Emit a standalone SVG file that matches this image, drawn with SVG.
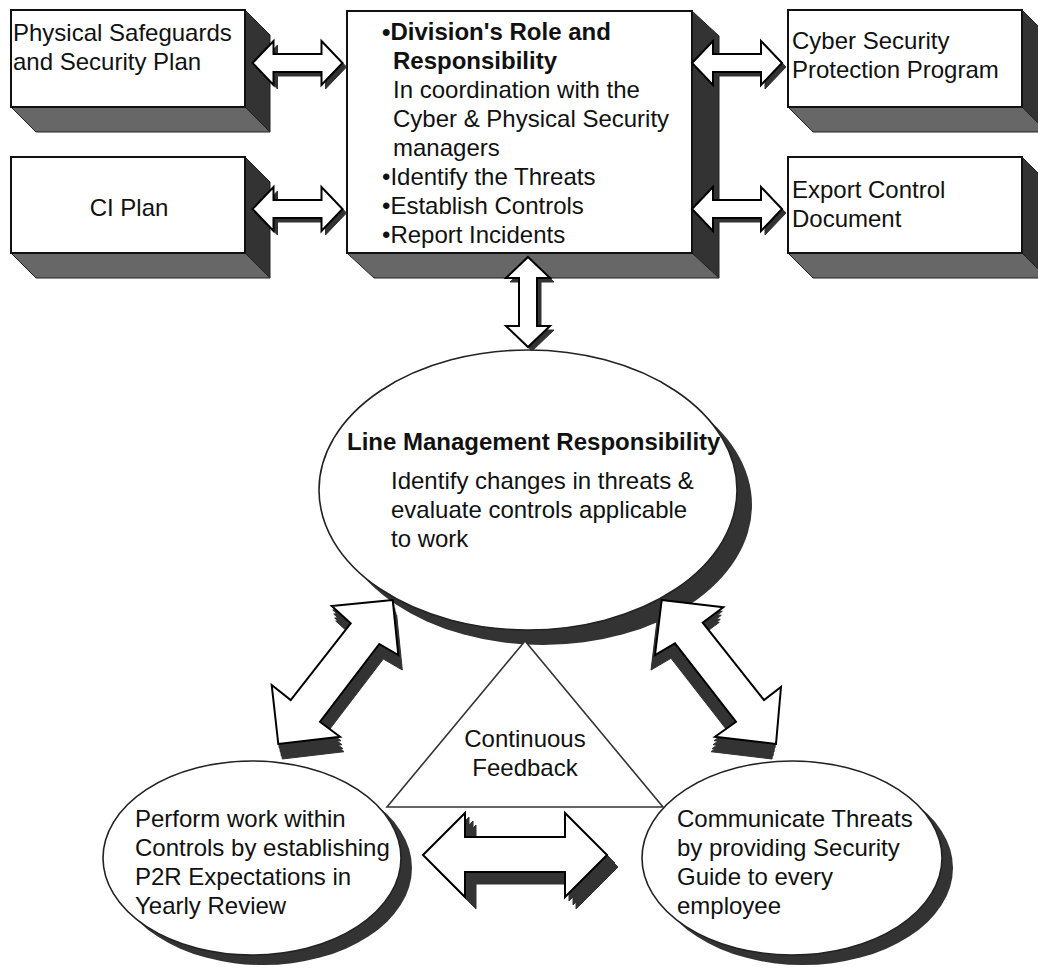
<svg xmlns="http://www.w3.org/2000/svg" xmlns:xlink="http://www.w3.org/1999/xlink" width="1038" height="968" viewBox="0 0 1038 968">
<style>
text{font-family:"Liberation Sans",Arial,Helvetica,sans-serif;font-size:24px;fill:#111}
.b{font-weight:bold}
.front{fill:#fff;stroke:#111;stroke-width:2}
.side{fill:#333;stroke:#222;stroke-width:1}
.bottom{fill:#676767;stroke:#222;stroke-width:1}
.ell{fill:#fff;stroke:#222;stroke-width:1.6}
.esh{fill:#333}
.arw{fill:#fff;stroke:#000;stroke-width:2;stroke-linejoin:miter}
.ash{fill:#333;stroke:#333;stroke-width:1}
</style>
<defs>
<polygon id="dbl" points="-45,0 -24,-22 -24,-9 24,-9 24,-22 45,0 24,22 24,9 -24,9 -24,22"/>
<polygon id="bot" points="423,855 465,813 465,837 565,837 565,813 607,855 565,897 565,872 465,872 465,897"/>
<polygon id="dl" points="392.7,600 331.7,606 350.7,623.3 290.7,700 271.7,685 278.3,744 340,736.7 320,721.7 379.3,644 398.3,655"/>
<polygon id="dr" points="661.7,600 723.3,607.3 702.7,622.7 764,700 781,687 776,744 715,736.7 736,721.7 675,643.3 655,655"/>
</defs>
<rect width="1038" height="968" fill="#fff"/>

<g id="physical-safeguards">
<polygon class="side" points="245,10 270,35 270,132 245,107"/>
<polygon class="bottom" points="11,107 245,107 270,132 36,132"/>
<rect class="front" x="11" y="10" width="234" height="97"/>
<text x="13" y="41">Physical Safeguards</text>
<text x="13" y="70">and Security Plan</text>
</g>

<g id="ci-plan">
<polygon class="side" points="245,157 270,182 270,278 245,253"/>
<polygon class="bottom" points="11,253 245,253 270,278 36,278"/>
<rect class="front" x="11" y="157" width="234" height="96"/>
<text x="129" y="216" text-anchor="middle">CI Plan</text>
</g>

<g id="division-role">
<polygon class="side" points="692,11 719,36 719,278 692,253"/>
<polygon class="bottom" points="347,253 692,253 719,278 374,278"/>
<rect class="front" x="347" y="11" width="345" height="242"/>
<text x="382" y="40" class="b">•Division's Role and</text>
<text x="393" y="69" class="b">Responsibility</text>
<text x="393" y="98">In coordination with the</text>
<text x="393" y="127">Cyber &amp; Physical Security</text>
<text x="393" y="156">managers</text>
<text x="382" y="185">•Identify the Threats</text>
<text x="382" y="214">•Establish Controls</text>
<text x="382" y="243">•Report Incidents</text>
</g>

<g id="cyber-security">
<polygon class="side" points="1022,10 1047,35 1047,132 1022,107"/>
<polygon class="bottom" points="788,107 1022,107 1047,132 813,132"/>
<rect class="front" x="788" y="10" width="234" height="97"/>
<text x="792" y="49">Cyber Security</text>
<text x="792" y="78">Protection Program</text>
</g>

<g id="export-control">
<polygon class="side" points="1022,157 1047,182 1047,278 1022,253"/>
<polygon class="bottom" points="788,253 1022,253 1047,278 813,278"/>
<rect class="front" x="788" y="157" width="234" height="96"/>
<text x="792" y="198">Export Control</text>
<text x="792" y="227">Document</text>
</g>

<g id="line-management">
<ellipse class="esh" cx="543" cy="505" rx="209" ry="140"/>
<ellipse class="ell" cx="528" cy="490" rx="209" ry="140"/>
<text x="347" y="450" class="b">Line Management Responsibility</text>
<text x="391" y="489">Identify changes in threats &amp;</text>
<text x="391" y="518">evaluate controls applicable</text>
<text x="391" y="547">to work</text>
</g>

<g id="perform-work">
<ellipse class="esh" cx="263" cy="868" rx="149" ry="97"/>
<ellipse class="ell" cx="252" cy="858" rx="149" ry="97"/>
<text x="135" y="827">Perform work within</text>
<text x="135" y="856">Controls by establishing</text>
<text x="135" y="885">P2R Expectations in</text>
<text x="135" y="914">Yearly Review</text>
</g>

<g id="communicate-threats">
<ellipse class="esh" cx="803" cy="868" rx="150" ry="97"/>
<ellipse class="ell" cx="792" cy="858" rx="150" ry="97"/>
<text x="677" y="827">Communicate Threats</text>
<text x="677" y="856">by providing Security</text>
<text x="677" y="885">Guide to every</text>
<text x="677" y="914">employee</text>
</g>

<g id="continuous-feedback">
<polygon points="525,641 387,807 663,807" fill="#fff" stroke="#333" stroke-width="1.6"/>
<text x="525" y="747" text-anchor="middle">Continuous</text>
<text x="525" y="776" text-anchor="middle">Feedback</text>
</g>

<g id="connectors">
<g transform="translate(297.5,63)"><use xlink:href="#dbl" class="ash" x="4" y="4"/><use xlink:href="#dbl" class="arw"/></g>
<g transform="translate(297.5,209)"><use xlink:href="#dbl" class="ash" x="4" y="4"/><use xlink:href="#dbl" class="arw"/></g>
<g transform="translate(737,63)"><use xlink:href="#dbl" class="ash" x="4" y="4"/><use xlink:href="#dbl" class="arw"/></g>
<g transform="translate(737,209)"><use xlink:href="#dbl" class="ash" x="4" y="4"/><use xlink:href="#dbl" class="arw"/></g>
<g transform="translate(528,302) rotate(90)"><use xlink:href="#dbl" class="ash" x="4" y="-4"/><use xlink:href="#dbl" class="arw"/></g>
<g>
<use xlink:href="#dl" class="ash" x="1" y="4"/><use xlink:href="#dl" class="ash" x="2" y="8"/><use xlink:href="#dl" class="ash" x="3" y="12"/><use xlink:href="#dl" class="ash" x="4" y="15"/>
<use xlink:href="#dl" class="arw"/>
</g>
<g>
<use xlink:href="#dr" class="ash" x="-1" y="4"/><use xlink:href="#dr" class="ash" x="-2" y="8"/><use xlink:href="#dr" class="ash" x="-3" y="12"/><use xlink:href="#dr" class="ash" x="-4" y="15"/>
<use xlink:href="#dr" class="arw"/>
</g>
<g>
<use xlink:href="#bot" class="ash" x="4" y="4"/><use xlink:href="#bot" class="ash" x="8" y="8"/><use xlink:href="#bot" class="ash" x="11" y="12"/>
<use xlink:href="#bot" class="arw"/>
</g>
</g>
</svg>
